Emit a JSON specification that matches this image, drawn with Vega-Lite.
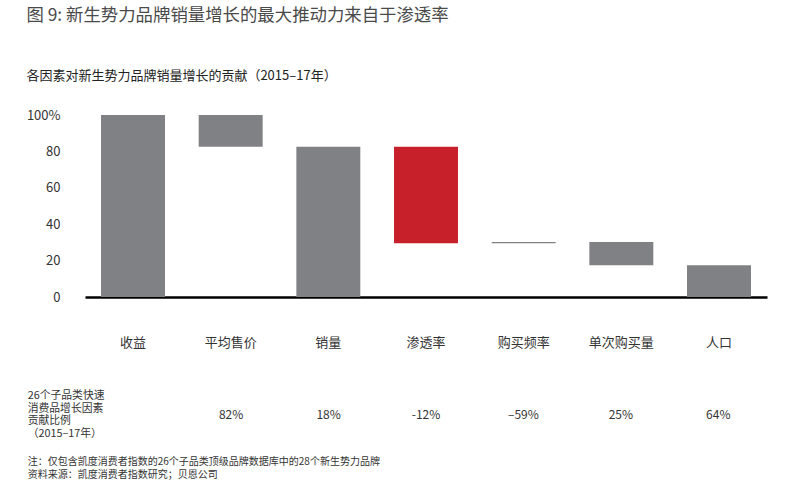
{
  "$schema": "https://vega.github.io/schema/vega-lite/v6.json",
  "background": "white",
  "padding": {"left": 26, "top": 6, "right": 10, "bottom": 10},
  "config": {
    "font": "Noto Sans CJK SC",
    "view": {"stroke": null},
    "concat": {"spacing": 40}
  },
  "title": {
    "text": "图 9: 新生势力品牌销量增长的最大推动力来自于渗透率",
    "subtitle": "各因素对新生势力品牌销量增长的贡献（2015–17年）",
    "anchor": "start",
    "frame": "bounds",
    "fontSize": 17.4,
    "fontWeight": "normal",
    "color": "#4a4a4a",
    "subtitleFontSize": 13,
    "subtitleColor": "#222222",
    "subtitlePadding": 46,
    "offset": 26
  },
  "datasets": {
    "bars": [
      {"factor": "收益", "start": 0, "end": 100, "highlight": "否"},
      {"factor": "平均售价", "start": 82.5, "end": 100, "highlight": "否"},
      {"factor": "销量", "start": 0, "end": 82.5, "highlight": "否"},
      {"factor": "渗透率", "start": 29.5, "end": 82.5, "highlight": "是"},
      {"factor": "购买频率", "start": 29.5, "end": 30.2, "highlight": "否"},
      {"factor": "单次购买量", "start": 17.5, "end": 30.2, "highlight": "否"},
      {"factor": "人口", "start": 0, "end": 17.5, "highlight": "否"}
    ],
    "table": [
      {"factor": "收益", "share": ""},
      {"factor": "平均售价", "share": "82%"},
      {"factor": "销量", "share": "18%"},
      {"factor": "渗透率", "share": "-12%"},
      {"factor": "购买频率", "share": "–59%"},
      {"factor": "单次购买量", "share": "25%"},
      {"factor": "人口", "share": "64%"}
    ],
    "rowlabel": [
      {"factor": "收益", "line": 1, "text": "26个子品类快速"},
      {"factor": "收益", "line": 2, "text": "消费品增长因素"},
      {"factor": "收益", "line": 3, "text": "贡献比例"},
      {"factor": "收益", "line": 4, "text": "（2015–17年）"}
    ]
  },
  "vconcat": [
    {
      "width": 682,
      "height": 182,
      "data": {"name": "bars"},
      "mark": {"type": "bar"},
      "encoding": {
        "x": {
          "field": "factor",
          "type": "nominal",
          "sort": null,
          "scale": {"paddingInner": 0.345, "paddingOuter": 0.164},
          "axis": {
            "title": null,
            "labelAngle": 0,
            "ticks": false,
            "domainColor": "#000000",
            "domainWidth": 2.5,
            "labelPadding": 39,
            "labelFontSize": 13,
            "labelColor": "#333333"
          }
        },
        "y": {
          "field": "start",
          "type": "quantitative",
          "scale": {"domain": [0, 100], "nice": false},
          "axis": {
            "title": null,
            "values": [0, 20, 40, 60, 80, 100],
            "labelExpr": "datum.value == 100 ? '100%' : datum.label",
            "grid": false,
            "domain": false,
            "ticks": false,
            "labelPadding": 25,
            "labelFontSize": 13,
            "labelColor": "#333333"
          }
        },
        "y2": {"field": "end"},
        "color": {
          "field": "highlight",
          "type": "nominal",
          "scale": {"domain": ["否", "是"], "range": ["#808184", "#c8202b"]},
          "legend": null
        }
      }
    },
    {
      "width": 682,
      "height": 50,
      "title": {
        "text": "注：仅包含凯度消费者指数的26个子品类顶级品牌数据库中的28个新生势力品牌",
        "subtitle": "资料来源：凯度消费者指数研究；贝恩公司",
        "orient": "bottom",
        "anchor": "start",
        "frame": "bounds",
        "fontSize": 10,
        "fontWeight": "normal",
        "color": "#333333",
        "subtitleFontSize": 10,
        "subtitleColor": "#333333",
        "subtitlePadding": 2.5,
        "offset": 17
      },
      "layer": [
        {
          "data": {"name": "table"},
          "mark": {"type": "text", "fontSize": 12, "color": "#333333"},
          "encoding": {
            "x": {
              "field": "factor",
              "type": "nominal",
              "sort": null,
              "scale": {"paddingInner": 0.345, "paddingOuter": 0.164},
              "axis": null
            },
            "text": {"field": "share"}
          }
        },
        {
          "data": {"name": "rowlabel"},
          "mark": {"type": "text", "fontSize": 10.8, "align": "left", "dx": -106, "color": "#333333"},
          "encoding": {
            "x": {"field": "factor", "type": "nominal", "sort": null},
            "y": {"field": "line", "type": "ordinal", "scale": {"type": "point", "padding": 0.47}, "axis": null},
            "text": {"field": "text"}
          }
        }
      ]
    }
  ]
}
